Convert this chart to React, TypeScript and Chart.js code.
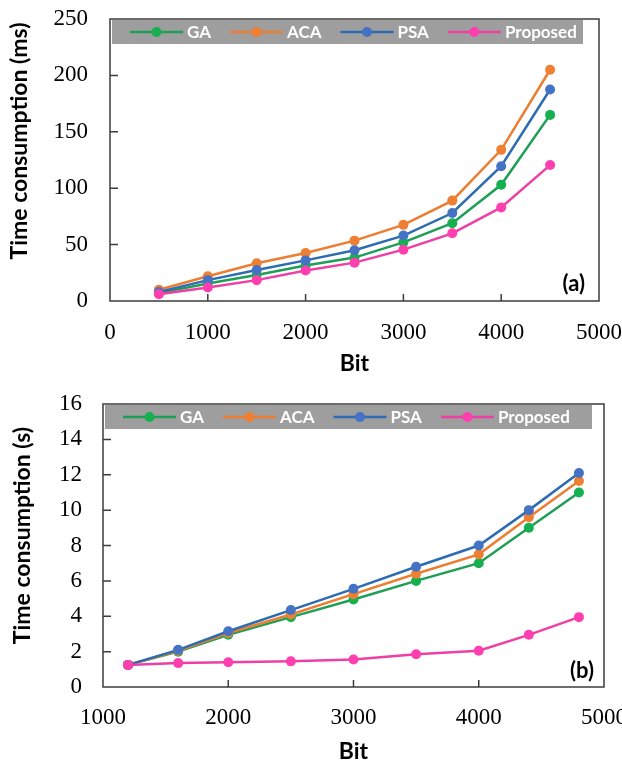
import React, { useEffect, useRef } from 'react';
import { Chart, registerables } from 'chart.js';
Chart.register(...registerables);

// ---------- data ----------
const seriesNames = ['GA', 'ACA', 'PSA', 'Proposed'];
const lineColors = ['#1f9e55', '#ed7d31', '#2e6cb2', '#ee3fa4'];
const pointColors = ['#16b050', '#ee7f33', '#4472c4', '#ff3fb0'];

// Panel (a): time in ms
const bitsA = [500, 1000, 1500, 2000, 2500, 3000, 3500, 4000, 4500];
const gaA = [7, 15.5, 23, 31.5, 38.5, 52, 69, 103, 165];
const acaA = [10, 22, 33.5, 42.5, 53.5, 67.5, 89, 134, 205];
const psaA = [8, 18.5, 27.5, 36, 45, 58, 78, 119.5, 187.5];
const propA = [6, 12, 18.5, 27, 34, 45.5, 60, 83, 120.5];
const xTicksA = [0, 1000, 2000, 3000, 4000, 5000];
const yTicksA = [0, 50, 100, 150, 200, 250];

// Panel (b): time in s
const bitsB = [1200, 1600, 2000, 2500, 3000, 3500, 4000, 4400, 4800];
const gaB = [1.25, 2.0, 2.95, 3.95, 4.95, 6.0, 7.0, 9.0, 11.0];
const acaB = [1.25, 2.05, 3.05, 4.1, 5.25, 6.4, 7.5, 9.6, 11.65];
const psaB = [1.25, 2.1, 3.15, 4.35, 5.55, 6.8, 8.0, 10.0, 12.1];
const propB = [1.25, 1.35, 1.4, 1.45, 1.55, 1.85, 2.05, 2.95, 3.95];
const xTicksB = [1000, 2000, 3000, 4000, 5000];
const yTicksB = [0, 2, 4, 6, 8, 10, 12, 14, 16];

const TICK_FONT = 'Liberation Serif';
const TITLE_FONT = 'Lato';

function makeDecor(cfg: any) {
  return {
    id: 'decor',
    afterDraw(chart: any) {
      const { ctx, chartArea: a, scales } = chart;
      ctx.save();
      // frame
      ctx.strokeStyle = '#3c3c3c';
      ctx.lineWidth = 1.5;
      ctx.strokeRect(a.left, a.top, a.right - a.left, a.bottom - a.top);
      // inward tick marks
      ctx.beginPath();
      scales.x.ticks.forEach((t: any) => {
        const px = scales.x.getPixelForValue(t.value);
        if (px > a.left + 2 && px < a.right - 2) {
          ctx.moveTo(px, a.bottom);
          ctx.lineTo(px, a.bottom - 7);
        }
      });
      scales.y.ticks.forEach((t: any) => {
        const py = scales.y.getPixelForValue(t.value);
        if (py > a.top + 2 && py < a.bottom - 2) {
          ctx.moveTo(a.left, py);
          ctx.lineTo(a.left + 8, py);
        }
      });
      ctx.stroke();

      // legend box
      const bx = a.left + 2;
      const by = a.top + 1;
      const bw = a.right - cfg.legendRightInset - bx;
      const bh = 24;
      ctx.fillStyle = '#9e9e9e';
      ctx.fillRect(bx, by, bw, bh);
      ctx.font = `bold 17px ${TITLE_FONT}`;
      ctx.textBaseline = 'middle';
      ctx.textAlign = 'left';
      let x = bx + 18;
      const cy = by + bh / 2;
      chart.data.datasets.forEach((ds: any) => {
        ctx.strokeStyle = ds.borderColor;
        ctx.lineWidth = 2.5;
        ctx.beginPath();
        ctx.moveTo(x, cy);
        ctx.lineTo(x + 53, cy);
        ctx.stroke();
        ctx.fillStyle = ds.pointBackgroundColor;
        ctx.beginPath();
        ctx.arc(x + 26.5, cy, 5, 0, Math.PI * 2);
        ctx.fill();
        ctx.fillStyle = '#ffffff';
        ctx.fillText(ds.label, x + 57, cy + 1);
        x += 57 + ctx.measureText(ds.label).width + 19;
      });

      // panel label
      ctx.fillStyle = '#000';
      ctx.font = `bold 22px ${TITLE_FONT}`;
      ctx.textAlign = 'right';
      ctx.textBaseline = 'middle';
      ctx.fillText(cfg.panel, a.right - cfg.panelRight, a.bottom - cfg.panelUp);

      // axis titles
      ctx.font = `bold 23px ${TITLE_FONT}`;
      ctx.textAlign = 'center';
      ctx.fillText(cfg.xTitle, (a.left + a.right) / 2, a.bottom + cfg.xTitleDy);
      ctx.translate(cfg.yTitleX, (a.top + a.bottom) / 2 + cfg.yTitleDy);
      ctx.rotate(-Math.PI / 2);
      ctx.fillText(cfg.yTitle, 0, 0);
      ctx.restore();
    },
  };
}

function buildConfig(
  bits: number[],
  series: number[][],
  xTicks: number[],
  yTicks: number[],
  layout: any,
  decorCfg: any
) {
  const datasets = series.map((vals, i) => ({
    label: seriesNames[i],
    data: vals.map((v, j) => ({ x: bits[j], y: v })),
    borderColor: lineColors[i],
    backgroundColor: pointColors[i],
    pointBackgroundColor: pointColors[i],
    pointBorderWidth: 0,
    pointRadius: 5,
    borderWidth: 2.5,
    showLine: true,
    fill: false,
    order: 4 - i,
  }));
  return {
    type: 'scatter',
    data: { datasets },
    options: {
      animation: false,
      responsive: false,
      layout: { padding: layout.padding },
      plugins: { legend: { display: false }, tooltip: { enabled: false } },
      scales: {
        x: {
          type: 'linear',
          min: xTicks[0],
          max: xTicks[xTicks.length - 1],
          grid: { display: false, drawTicks: false },
          border: { display: false },
          afterBuildTicks: (s: any) => {
            s.ticks = xTicks.map((v) => ({ value: v }));
          },
          ticks: {
            font: { family: TICK_FONT, size: 23 },
            color: '#000',
            padding: layout.xPad,
            maxRotation: 0,
            autoSkip: false,
            callback: (v: any) => String(v),
          },
          afterFit: (s: any) => {
            s.height = layout.xHeight;
            s.paddingLeft = 0;
            s.paddingRight = 0;
          },
        },
        y: {
          type: 'linear',
          min: yTicks[0],
          max: yTicks[yTicks.length - 1],
          grid: { display: false, drawTicks: false },
          border: { display: false },
          afterBuildTicks: (s: any) => {
            s.ticks = yTicks.map((v) => ({ value: v }));
          },
          ticks: {
            font: { family: TICK_FONT, size: 23 },
            color: '#000',
            padding: layout.yPad,
            autoSkip: false,
            callback: (v: any) => String(v),
          },
          afterFit: (s: any) => {
            s.width = layout.yWidth;
            s.paddingTop = 0;
            s.paddingBottom = 0;
          },
        },
      },
    },
    plugins: [makeDecor(decorCfg)],
  };
}

function ChartPanel(props: { top: number; height: number; config: any }) {
  const ref = useRef<HTMLCanvasElement | null>(null);
  useEffect(() => {
    if (!ref.current) return;
    const chart = new Chart(ref.current, props.config);
    return () => chart.destroy();
  }, []);
  return (
    <canvas
      ref={ref}
      width={622}
      height={props.height}
      style={{ position: 'absolute', left: 0, top: props.top, width: 622, height: props.height, display: 'block' }}
    />
  );
}

const configA = buildConfig(
  bitsA,
  [gaA, acaA, psaA, propA],
  xTicksA,
  yTicksA,
  { padding: { top: 19, right: 23, left: 0, bottom: 0 }, xHeight: 89, yWidth: 110, xPad: 18, yPad: 22 },
  { panel: '(a)', panelRight: 14, panelUp: 17, xTitle: 'Bit', xTitleDy: 63, yTitle: 'Time consumption (ms)', yTitleX: 20, yTitleDy: -19, legendRightInset: 16 }
);

const configB = buildConfig(
  bitsB,
  [gaB, acaB, psaB, propB],
  xTicksB,
  yTicksB,
  { padding: { top: 14, right: 18, left: 0, bottom: 0 }, xHeight: 77, yWidth: 103, xPad: 17, yPad: 21 },
  { panel: '(b)', panelRight: 10, panelUp: 16, xTitle: 'Bit', xTitleDy: 65, yTitle: 'Time consumption (s)', yTitleX: 23, yTitleDy: -10, legendRightInset: 12 }
);

export default function App() {
  return (
    <div style={{ position: 'absolute', left: 0, top: 0, width: 622, height: 764, background: '#fff', overflow: 'hidden' }}>
      <ChartPanel top={0} height={390} config={configA} />
      <ChartPanel top={390} height={374} config={configB} />
    </div>
  );
}
